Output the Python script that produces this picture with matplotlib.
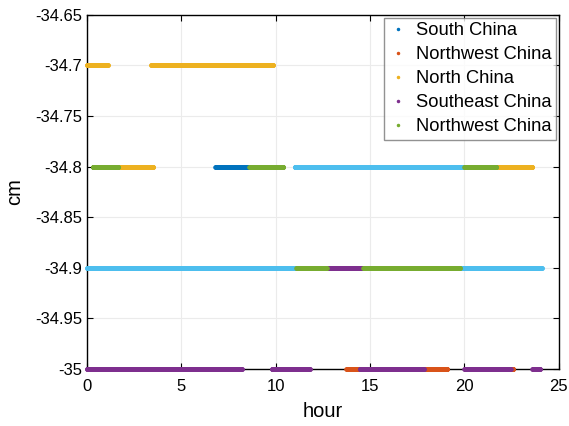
import matplotlib
matplotlib.use("Agg")
import matplotlib.pyplot as plt
from matplotlib.lines import Line2D
import numpy as np

plt.rcParams["font.family"] = ["Liberation Sans", "DejaVu Sans"]

# series: name, colour, list of (level, start hour, end hour)
NAMES = ["South China", "Northwest China", "North China", "Southeast China", "Northwest China", None]
COLORS = ["#0072BD", "#D95319", "#EDB120", "#7E2F8E", "#77AC30", "#4DBEEE"]

south = [(-34.8, 6.8, 8.6)]
northwest1 = [(-35.0, 13.75, 14.45), (-35.0, 17.85, 19.1), (-35.0, 22.45, 22.6)]
north = [(-34.7, 0.0, 1.1), (-34.7, 3.4, 9.85), (-34.8, 1.65, 3.5), (-34.8, 21.7, 23.6)]
southeast = [(-35.0, 0.0, 8.2), (-35.0, 9.8, 11.8), (-35.0, 14.45, 17.85),
             (-35.0, 20.0, 22.45), (-35.0, 23.6, 24.0), (-34.9, 12.7, 14.6)]
northwest2 = [(-34.8, 0.3, 1.65), (-34.8, 8.6, 10.4), (-34.8, 20.0, 21.7),
              (-34.9, 11.1, 12.7), (-34.9, 14.65, 19.75)]
other = [(-34.8, 11.0, 19.9), (-34.9, 0.0, 11.1), (-34.9, 19.75, 24.1)]
SERIES = [south, northwest1, north, southeast, northwest2, other]

YTICKS = [-34.65, -34.7, -34.75, -34.8, -34.85, -34.9, -34.95, -35.0]
YLABELS = ["-34.65", "-34.7", "-34.75", "-34.8", "-34.85", "-34.9", "-34.95", "-35"]

fig = plt.figure(figsize=(5.69, 4.26), dpi=100)
ax = fig.add_axes([0.153, 0.134, 0.829, 0.831])

# draw order: light blue first so others sit on top
for idx in [5, 0, 1, 2, 3, 4]:
    for lvl, t0, t1 in SERIES[idx]:
        t = np.arange(t0, t1 + 1e-9, 0.01)
        ax.plot(t, np.full_like(t, lvl), ".", color=COLORS[idx],
                markersize=4.6, clip_on=False, zorder=3)

ax.set_xlim(0, 25)
ax.set_ylim(-35, -34.65)
ax.set_xticks([0, 5, 10, 15, 20, 25])
ax.set_yticks(YTICKS)
ax.set_yticklabels(YLABELS)
ax.tick_params(direction="in", top=True, right=True, labelsize=12, length=4)
ax.tick_params(axis="x", pad=7)
ax.grid(True, color="#ebebeb", linewidth=0.8, zorder=0)
for s in ax.spines.values():
    s.set_linewidth(1.0)
ax.set_xlabel("hour", fontsize=14.5, labelpad=6)
ax.set_ylabel("cm", fontsize=14.5, labelpad=8)

handles = [Line2D([], [], marker=".", linestyle="none", color=c, markersize=3)
           for c in COLORS[:5]]
leg = ax.legend(handles, NAMES[:5], loc="upper right", fontsize=13.2,
                frameon=True, fancybox=False, borderaxespad=0.15,
                handletextpad=0.5, handlelength=1.0, labelspacing=0.38,
                borderpad=0.25)
leg.get_frame().set_edgecolor("#777777")
leg.get_frame().set_linewidth(1.0)

fig.savefig("out.png", dpi=100)
